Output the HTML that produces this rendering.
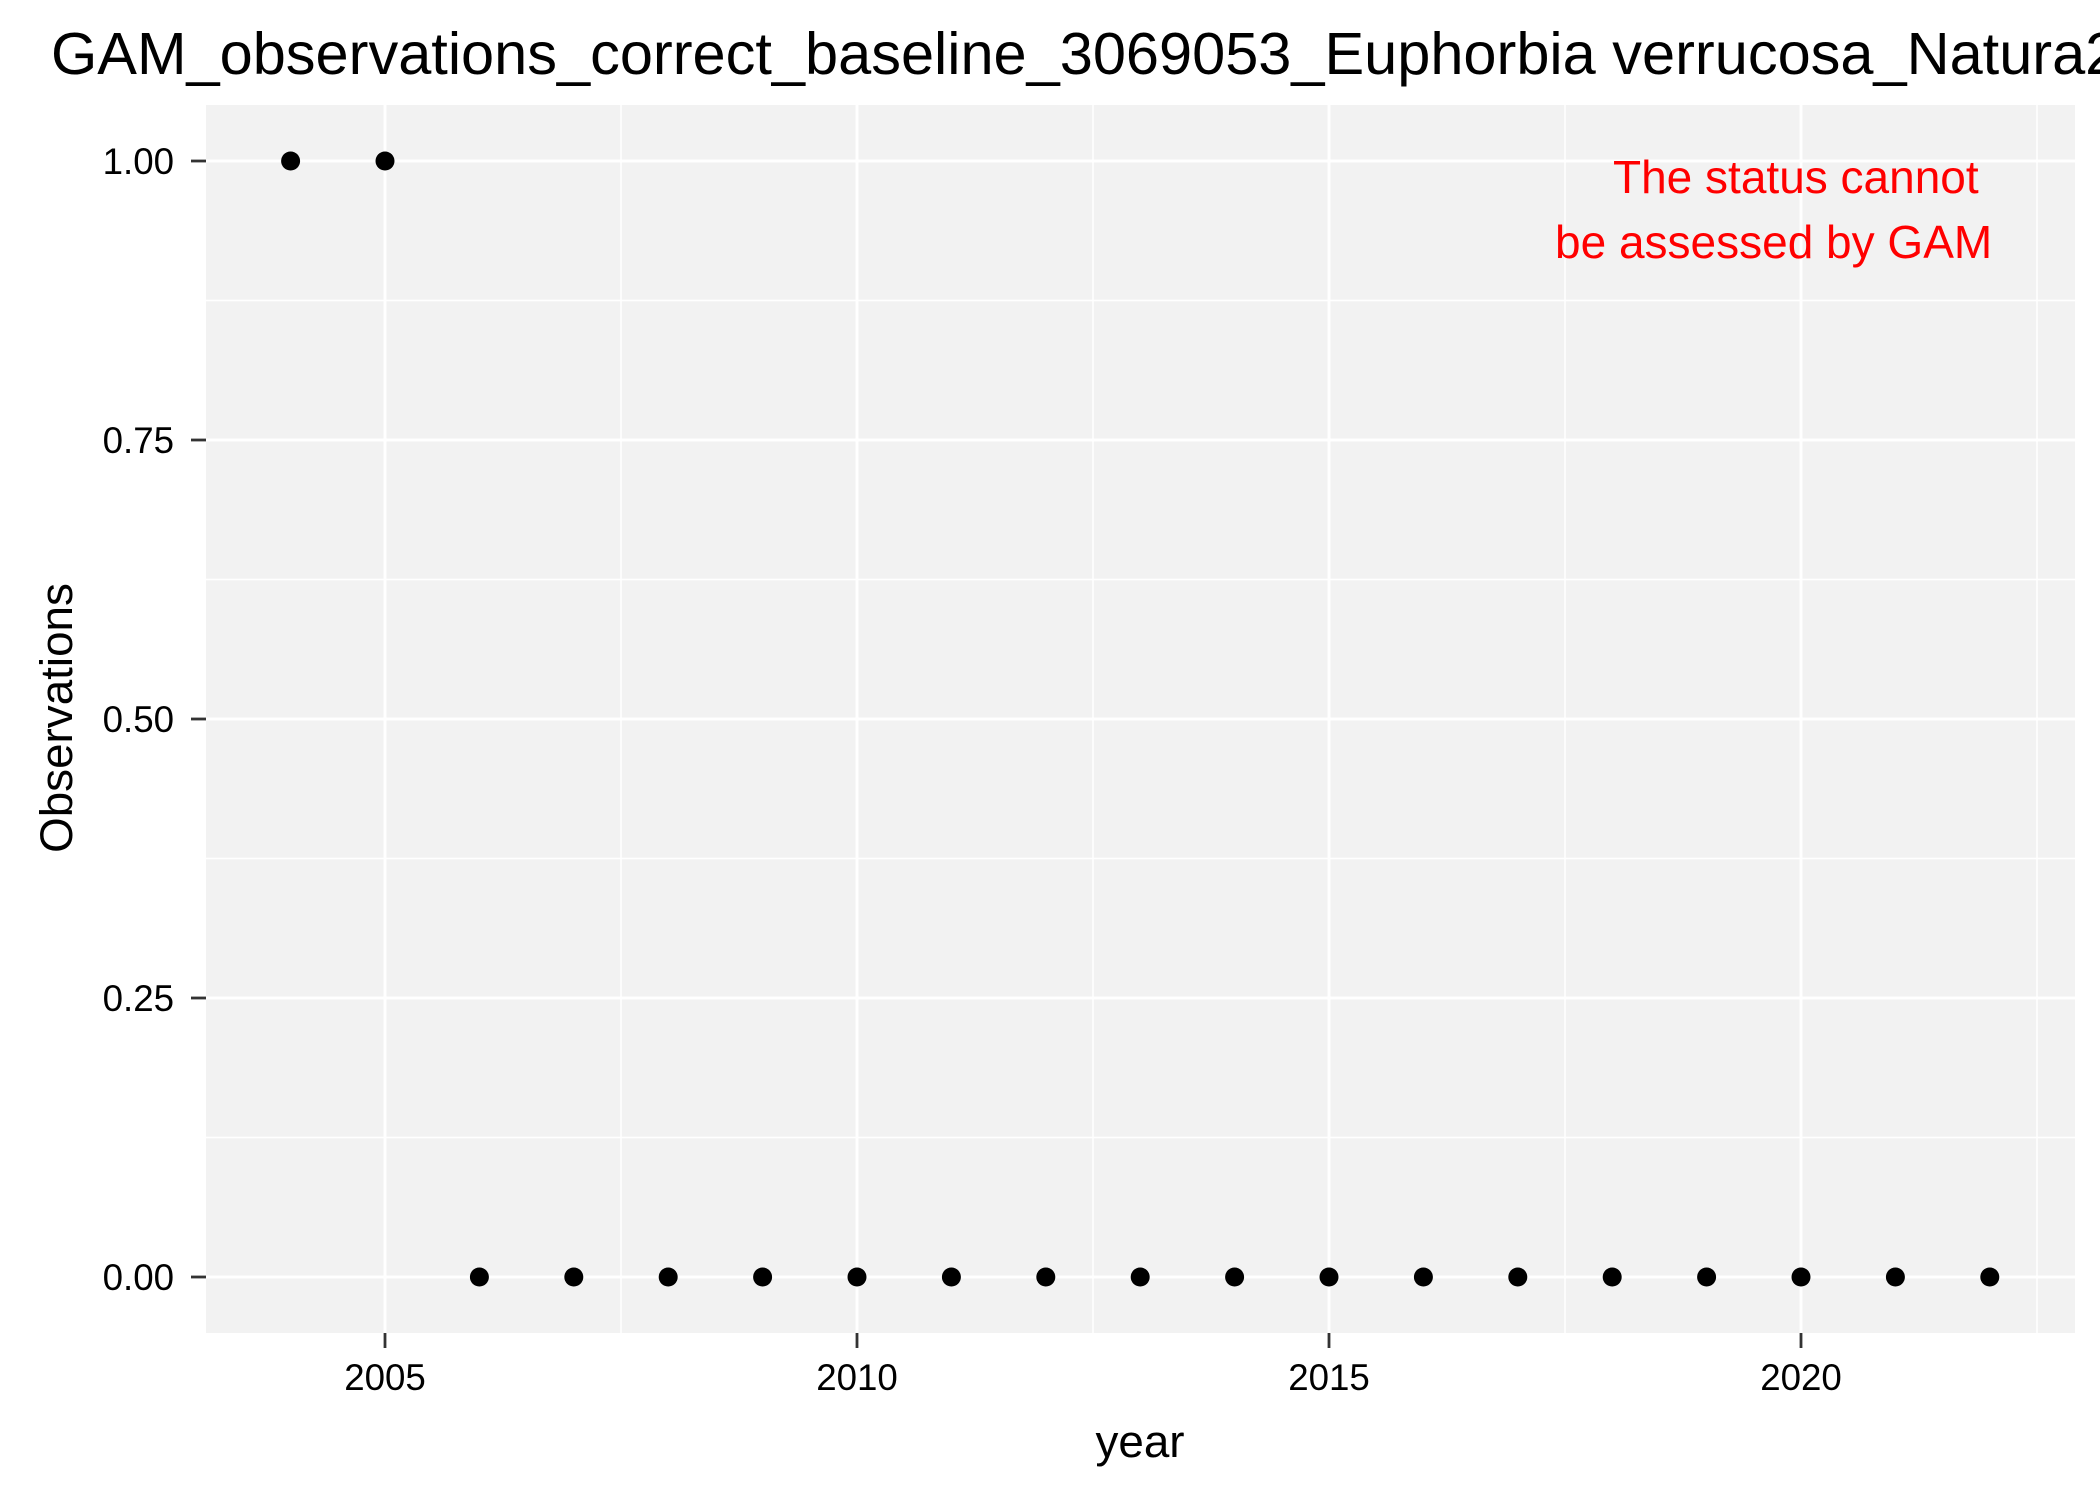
<!DOCTYPE html>
<html><head><meta charset="utf-8"><style>
html,body{margin:0;padding:0;background:#fff;}
svg{display:block;font-family:"Liberation Sans",Arial,sans-serif;}
</style></head><body>
<svg id="chart" width="2100" height="1499" viewBox="0 0 2100 1499" xmlns="http://www.w3.org/2000/svg">
<text x="51" y="74" font-size="59.5" fill="#000">GAM_observations_correct_baseline_3069053_Euphorbia verrucosa_Natura2000_sites</text>
<rect x="206" y="105" width="1869" height="1228" fill="#f2f2f2"/>
<g id="grid"></g>
<g id="axes"></g>
<g id="points"></g>
<text x="1613" y="193" font-size="46" fill="#ff0000">The status cannot</text>
<text x="1555" y="258" font-size="46" fill="#ff0000">be assessed by GAM</text>
<text x="1140" y="1457" font-size="45.8" text-anchor="middle" fill="#000">year</text>
<text x="0" y="0" font-size="45.8" text-anchor="middle" fill="#000" transform="translate(72,718) rotate(-90)">Observations</text>
</svg>
<script>
const years = [2004,2005,2006,2007,2008,2009,2010,2011,2012,2013,2014,2015,2016,2017,2018,2019,2020,2021,2022];
const observations = [1,1,0,0,0,0,0,0,0,0,0,0,0,0,0,0,0,0,0];
const xTicks = [2005,2010,2015,2020];
const xMinor = [2007.5,2012.5,2017.5,2022.5];
const yTicks = [0,0.25,0.5,0.75,1];
const yTickLabels = ["0.00","0.25","0.50","0.75","1.00"];
const yMinor = [0.125,0.375,0.625,0.875];

const NS = "http://www.w3.org/2000/svg";
const PL = 206, PR = 2075, PT = 105, PB = 1333;
function xs(v){ return 290.6 + (v - 2004) * 94.4; }
function ys(v){ return 1277 - v * 1116; }
function mk(tag, attrs, parent){
  const e = document.createElementNS(NS, tag);
  for (const k in attrs) e.setAttribute(k, attrs[k]);
  parent.appendChild(e);
  return e;
}
const grid = document.getElementById('grid');
const axes = document.getElementById('axes');
const pts = document.getElementById('points');

yMinor.forEach(v => {
  const l = mk('line', {x1:PL, x2:PR, y1:ys(v), y2:ys(v), stroke:'#fff', 'stroke-width':1.5}, grid);
  
  
});
xMinor.forEach(v => {
  const l = mk('line', {x1:xs(v), x2:xs(v), y1:PT, y2:PB, stroke:'#fff', 'stroke-width':1.5}, grid);
  
  
});
yTicks.forEach((v, i) => {
  const y = ys(v);
  const l = mk('line', {x1:PL, x2:PR, y1:y, y2:y, stroke:'#fff', 'stroke-width':3}, grid);
  
  
  const t = mk('line', {x1:PL-15, x2:PL, y1:y, y2:y, stroke:'#333', 'stroke-width':2.8}, axes);
  
  
  const tx = mk('text', {x:PL-32, y:y+13, 'font-size':36.7, 'text-anchor':'end', fill:'#000'}, axes);
  tx.textContent = yTickLabels[i];
  
  
});
xTicks.forEach(v => {
  const x = xs(v);
  const l = mk('line', {x1:x, x2:x, y1:PT, y2:PB, stroke:'#fff', 'stroke-width':3}, grid);
  
  
  const t = mk('line', {x1:x, x2:x, y1:PB, y2:PB+15, stroke:'#333', 'stroke-width':2.8}, axes);
  
  
  const tx = mk('text', {x:x, y:1390, 'font-size':36.7, 'text-anchor':'middle', fill:'#000'}, axes);
  tx.textContent = String(v);
  
  
});
years.forEach((yr, i) => {
  const c = mk('circle', {cx:xs(yr), cy:ys(observations[i]), r:9.5, fill:'#000'}, pts);
  
  
});
</script>
</body></html>
